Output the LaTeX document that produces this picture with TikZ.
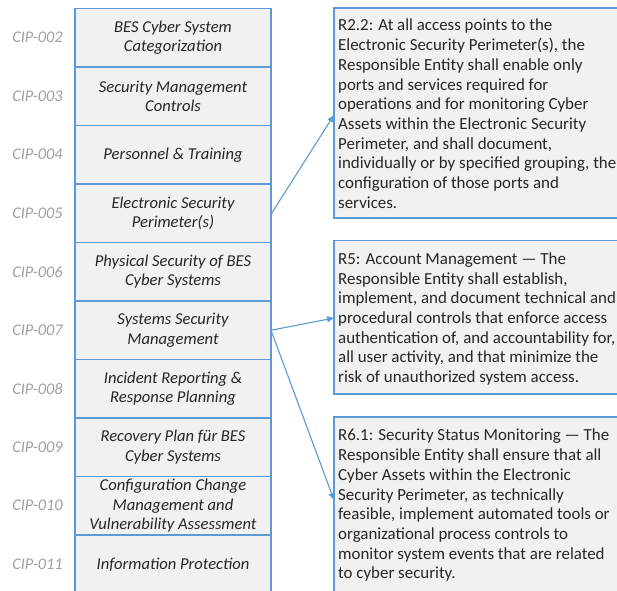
\documentclass[tikz,border=0pt]{standalone}
\usepackage{fontspec}
\setmainfont{Carlito}
\usetikzlibrary{arrows.meta,positioning}
\definecolor{frameblue}{HTML}{5B9BD5}
\definecolor{boxfill}{HTML}{F1F1F1}
\definecolor{cipgray}{HTML}{A0A0A0}
\definecolor{bodytext}{HTML}{262626}
\tikzset{
  x=1pt, y=1pt,
  layer/.style={draw=frameblue, line width=1.3pt, fill=boxfill, rectangle,
    minimum width=196pt, minimum height=58.5pt, inner sep=0pt, outer sep=0pt,
    align=center, text=bodytext,
    font=\fontsize{16.6}{19.6}\selectfont\itshape},
  ciplabel/.style={text=cipgray, font=\fontsize{16.3}{18}\selectfont\itshape, inner sep=0pt},
  reqbox/.style={draw=frameblue, line width=1.1pt, fill=boxfill, rectangle,
    anchor=north west, inner sep=0pt, outer sep=0pt},
  reqtext/.style={anchor=north west, align=left, inner sep=0pt, text=bodytext,
    font=\fontsize{16.9}{19.7}\selectfont},
  link/.style={draw=frameblue, line width=1.1pt,
    -{Triangle[length=7pt,width=6pt]}}
}
\begin{document}
\begin{tikzpicture}
\useasboundingbox (0,0) rectangle (617,-590);
\clip (0,0) rectangle (617,-590);
\fill[white] (0,0) rectangle (617,-590);

% stack of CIP standards
\foreach \n/\t [count=\i from 0] in {
  002/{BES Cyber System\\Categorization},
  003/{Security Management\\Controls},
  004/{Personnel \& Training},
  005/{Electronic Security\\Perimeter(s)},
  006/{Physical Security of BES\\Cyber Systems},
  007/{Systems Security\\Management},
  008/{Incident Reporting \&\\Response Planning},
  009/{Recovery Plan für BES\\Cyber Systems},
  010/{Configuration Change\\Management and\\Vulnerability Assessment},
  011/{Information Protection}}
{
  \node[layer] (r\n) at (173,{-8.5-29.25-58.5*\i}) {\t};
  \node[ciplabel] (c\n) at (37.5,{-8.5-29.25-58.5*\i}) {CIP-\n};
}

% requirement boxes
\node[reqbox, minimum width=300pt, minimum height=210pt] (q1) at (334,-8) {};
\node[reqtext] (t1) at ([xshift=4pt,yshift=-11pt]q1.north west)
 {R2.2: At all access points to the\\
  Electronic Security Perimeter(s), the\\
  Responsible Entity shall enable only\\
  ports and services required for\\
  operations and for monitoring Cyber\\
  Assets within the Electronic Security\\
  Perimeter, and shall document,\\
  individually or by specified grouping, the\\
  configuration of those ports and\\
  services.};

\node[reqbox, minimum width=300pt, minimum height=153.5pt] (q2) at (334,-240.5) {};
\node[reqtext] (t2) at ([xshift=4pt,yshift=-12pt]q2.north west)
 {R5: Account Management --- The\\
  Responsible Entity shall establish,\\
  implement, and document technical and\\
  procedural controls that enforce access\\
  authentication of, and accountability for,\\
  all user activity, and that minimize the\\
  risk of unauthorized system access.};

\node[reqbox, minimum width=300pt, minimum height=200pt] (q3) at (334,-417) {};
\node[reqtext] (t3) at ([xshift=4pt,yshift=-12pt]q3.north west)
 {R6.1: Security Status Monitoring --- The\\
  Responsible Entity shall ensure that all\\
  Cyber Assets within the Electronic\\
  Security Perimeter, as technically\\
  feasible, implement automated tools or\\
  organizational process controls to\\
  monitor system events that are related\\
  to cyber security.};

% links from standards to requirements
\coordinate (e1) at (334,-115);
\coordinate (e2) at (334,-318);
\coordinate (e3) at (334,-500);
\draw[link] ([yshift=-1pt]r005.east) -- (e1);
\draw[link] (r007.east) -- (e2);
\draw[link] (r007.east) -- (e3);
\end{tikzpicture}
\end{document}
